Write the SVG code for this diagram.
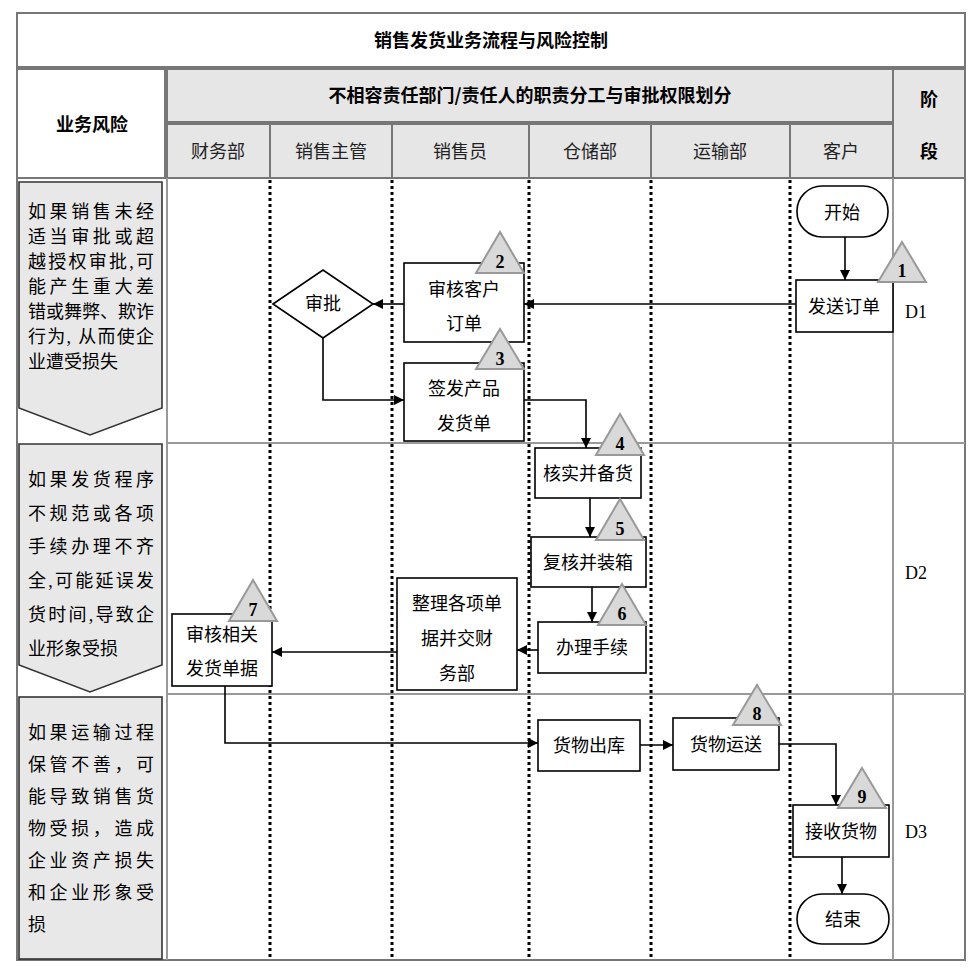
<svg xmlns="http://www.w3.org/2000/svg" width="979" height="976" viewBox="0 0 979 976">
<defs>
<marker id="ar" viewBox="0 0 10 10" refX="10" refY="5" markerWidth="10" markerHeight="10" markerUnits="userSpaceOnUse" orient="auto"><path d="M0,0 L10,5 L0,10 z" fill="#000"/></marker>
<style>
text{font-family:"Liberation Serif","Noto Sans CJK SC",serif;fill:#000}
.h{font-family:"Noto Sans CJK SC",sans-serif;font-weight:bold;font-size:18px}
.s{font-family:"Noto Sans CJK SC",sans-serif;font-size:18px;fill:#222}
.n{font-family:"Noto Sans CJK SC",sans-serif;font-size:18px}
.r{font-family:"Noto Sans CJK SC",sans-serif;font-size:18px;fill:#333}
.g{fill:#e6e6e6;stroke:#777;stroke-width:2}
.box{fill:#fff;stroke:#000;stroke-width:1.6}
.tri{fill:#d9d9d9;stroke:#999;stroke-width:2}
.num{font-family:"Liberation Serif",serif;font-weight:bold;font-size:18px}
.dot{stroke:#000;stroke-width:3;stroke-dasharray:3,3}
.c{fill:none;stroke:#000;stroke-width:1.6}
</style>
</defs>
<rect x="17" y="13" width="948" height="947" fill="#fff" stroke="#777" stroke-width="2"/>
<rect x="17" y="13" width="948" height="54" fill="#fff" stroke="#777" stroke-width="2"/>
<text class="h" x="491" y="47" text-anchor="middle">销售发货业务流程与风险控制</text>
<rect x="17" y="69" width="148" height="109" fill="#fff" stroke="#777" stroke-width="2"/>
<text class="h" x="92" y="131" text-anchor="middle">业务风险</text>
<rect class="g" x="167" y="69" width="726" height="53"/>
<text class="h" x="530" y="102" text-anchor="middle">不相容责任部门/责任人的职责分工与审批权限划分</text>
<rect class="g" x="893" y="69" width="72" height="109"/>
<text class="h" x="929" y="106" text-anchor="middle">阶</text>
<text class="h" x="929" y="158" text-anchor="middle">段</text>
<g>
<rect class="g" x="167" y="124" width="103" height="54"/><text class="s" x="218" y="158" text-anchor="middle">财务部</text>
<rect class="g" x="270" y="124" width="122" height="54"/><text class="s" x="331" y="158" text-anchor="middle">销售主管</text>
<rect class="g" x="392" y="124" width="137" height="54"/><text class="s" x="460" y="158" text-anchor="middle">销售员</text>
<rect class="g" x="529" y="124" width="122" height="54"/><text class="s" x="590" y="158" text-anchor="middle">仓储部</text>
<rect class="g" x="651" y="124" width="139" height="54"/><text class="s" x="720" y="158" text-anchor="middle">运输部</text>
<rect class="g" x="790" y="124" width="103" height="54"/><text class="s" x="841" y="158" text-anchor="middle">客户</text>
</g>
<g stroke="#999" stroke-width="2">
<line x1="167" y1="178" x2="167" y2="960"/>
<line x1="893" y1="178" x2="893" y2="960"/>
<line x1="167" y1="443" x2="965" y2="443"/>
<line x1="167" y1="694" x2="965" y2="694"/>
</g>
<g>
<line class="dot" x1="270" y1="180" x2="270" y2="960"/>
<line class="dot" x1="392" y1="180" x2="392" y2="960"/>
<line class="dot" x1="529" y1="180" x2="529" y2="960"/>
<line class="dot" x1="651" y1="180" x2="651" y2="960"/>
<line class="dot" x1="790" y1="180" x2="790" y2="960"/>
</g>
<g id="risk1">
<path d="M19,182 H162 V408 L90,435 L19,408 Z" fill="#e8e8e8" stroke="#333" stroke-width="1.6"/>
<g class="r">
<text x="28" y="218" textLength="126" lengthAdjust="spacing">如果销售未经</text>
<text x="28" y="243" textLength="126" lengthAdjust="spacing">适当审批或超</text>
<text x="28" y="268" textLength="126" lengthAdjust="spacing">越授权审批,可</text>
<text x="28" y="293" textLength="126" lengthAdjust="spacing">能产生重大差</text>
<text x="28" y="318" textLength="126" lengthAdjust="spacing">错或舞弊、欺诈</text>
<text x="28" y="343" textLength="126" lengthAdjust="spacing">行为, 从而使企</text>
<text x="28" y="368">业遭受损失</text>
</g>
</g>
<g id="risk2">
<path d="M19,444 H162 V665 L90,692 L19,665 Z" fill="#e8e8e8" stroke="#333" stroke-width="1.6"/>
<g class="r">
<text x="28" y="486" textLength="126" lengthAdjust="spacing">如果发货程序</text>
<text x="28" y="520" textLength="126" lengthAdjust="spacing">不规范或各项</text>
<text x="28" y="553" textLength="126" lengthAdjust="spacing">手续办理不齐</text>
<text x="28" y="587" textLength="126" lengthAdjust="spacing">全,可能延误发</text>
<text x="28" y="621" textLength="126" lengthAdjust="spacing">货时间,导致企</text>
<text x="28" y="655">业形象受损</text>
</g>
</g>
<g id="risk3">
<rect x="19" y="697" width="143" height="262" fill="#e8e8e8" stroke="#333" stroke-width="1.6"/>
<g class="r">
<text x="28" y="739" textLength="126" lengthAdjust="spacing">如果运输过程</text>
<text x="28" y="771" textLength="126" lengthAdjust="spacing">保管不善，可</text>
<text x="28" y="803" textLength="126" lengthAdjust="spacing">能导致销售货</text>
<text x="28" y="835" textLength="126" lengthAdjust="spacing">物受损，造成</text>
<text x="28" y="867" textLength="126" lengthAdjust="spacing">企业资产损失</text>
<text x="28" y="899" textLength="126" lengthAdjust="spacing">和企业形象受</text>
<text x="28" y="931">损</text>
</g>
</g>
<g class="n">
<text x="905" y="318" font-family="Liberation Serif" font-size="18">D1</text>
<text x="905" y="579" font-family="Liberation Serif" font-size="18">D2</text>
<text x="905" y="838" font-family="Liberation Serif" font-size="18">D3</text>
</g>
<g id="connectors">
<path class="c" d="M845,237 V280" marker-end="url(#ar)"/>
<path class="c" d="M796,304 H524" marker-end="url(#ar)"/>
<path class="c" d="M404,304 H373" marker-end="url(#ar)"/>
<path class="c" d="M323,338 V400 H404" marker-end="url(#ar)"/>
<path class="c" d="M524,400 H586 V448" marker-end="url(#ar)"/>
<path class="c" d="M590,498 V537" marker-end="url(#ar)"/>
<path class="c" d="M592,587 V622" marker-end="url(#ar)"/>
<path class="c" d="M538,650 H517" marker-end="url(#ar)"/>
<path class="c" d="M397,652 H272" marker-end="url(#ar)"/>
<path class="c" d="M225,686 V743 H538" marker-end="url(#ar)"/>
<path class="c" d="M640,745 H673" marker-end="url(#ar)"/>
<path class="c" d="M779,744 H836 V805" marker-end="url(#ar)"/>
<path class="c" d="M842,857 V894" marker-end="url(#ar)"/>
</g>
<g id="start"><rect class="box" x="797" y="186" width="91" height="51" rx="25"/><text class="n" x="842" y="219" text-anchor="middle">开始</text></g>
<g id="n1"><rect class="box" x="796" y="280" width="97" height="52"/><text class="n" x="844" y="313" text-anchor="middle">发送订单</text>
<path class="tri" d="M902,242 L926,282 L878,282 Z"/><text class="num" x="902" y="277" text-anchor="middle">1</text></g>
<g id="n2"><rect class="box" x="404" y="263" width="120" height="79"/><text class="n" x="464" y="296" text-anchor="middle">审核客户</text><text class="n" x="464" y="330" text-anchor="middle">订单</text>
<path class="tri" d="M500,232 L524,273 L476,273 Z"/><text class="num" x="500" y="268" text-anchor="middle">2</text></g>
<g id="approve"><path class="box" d="M273,304 L323,270 L373,304 L323,338 Z"/><text class="n" x="323" y="310" text-anchor="middle">审批</text></g>
<g id="n3"><rect class="box" x="404" y="363" width="120" height="78"/><text class="n" x="464" y="395" text-anchor="middle">签发产品</text><text class="n" x="464" y="430" text-anchor="middle">发货单</text>
<path class="tri" d="M500,329 L524,369 L476,369 Z"/><text class="num" x="500" y="365" text-anchor="middle">3</text></g>
<g id="n4"><rect class="box" x="535" y="448" width="106" height="50"/><text class="n" x="588" y="480" text-anchor="middle">核实并备货</text>
<path class="tri" d="M620,414 L644,455 L596,455 Z"/><text class="num" x="620" y="450" text-anchor="middle">4</text></g>
<g id="n5"><rect class="box" x="531" y="537" width="115" height="50"/><text class="n" x="588" y="569" text-anchor="middle">复核并装箱</text>
<path class="tri" d="M620,499 L644,540 L596,540 Z"/><text class="num" x="620" y="535" text-anchor="middle">5</text></g>
<g id="n6"><rect class="box" x="538" y="622" width="108" height="51"/><text class="n" x="592" y="654" text-anchor="middle">办理手续</text>
<path class="tri" d="M622,584 L646,625 L598,625 Z"/><text class="num" x="622" y="620" text-anchor="middle">6</text></g>
<g id="n6b"><rect class="box" x="397" y="578" width="120" height="112"/><text class="n" x="457" y="610" text-anchor="middle">整理各项单</text><text class="n" x="457" y="645" text-anchor="middle">据并交财</text><text class="n" x="457" y="680" text-anchor="middle">务部</text></g>
<g id="n7"><rect class="box" x="172" y="614" width="100" height="72"/><text class="n" x="222" y="641" text-anchor="middle">审核相关</text><text class="n" x="222" y="675" text-anchor="middle">发货单据</text>
<path class="tri" d="M253,580 L277,621 L229,621 Z"/><text class="num" x="253" y="616" text-anchor="middle">7</text></g>
<g id="out"><rect class="box" x="538" y="720" width="102" height="51"/><text class="n" x="589" y="752" text-anchor="middle">货物出库</text></g>
<g id="n8"><rect class="box" x="673" y="718" width="106" height="52"/><text class="n" x="726" y="751" text-anchor="middle">货物运送</text>
<path class="tri" d="M757,685 L781,725 L733,725 Z"/><text class="num" x="757" y="720" text-anchor="middle">8</text></g>
<g id="n9"><rect class="box" x="793" y="805" width="96" height="52"/><text class="n" x="841" y="838" text-anchor="middle">接收货物</text>
<path class="tri" d="M862,768 L886,808 L838,808 Z"/><text class="num" x="862" y="803" text-anchor="middle">9</text></g>
<g id="end"><rect class="box" x="797" y="894" width="92" height="50" rx="25"/><text class="n" x="843" y="926" text-anchor="middle">结束</text></g>
</svg>
